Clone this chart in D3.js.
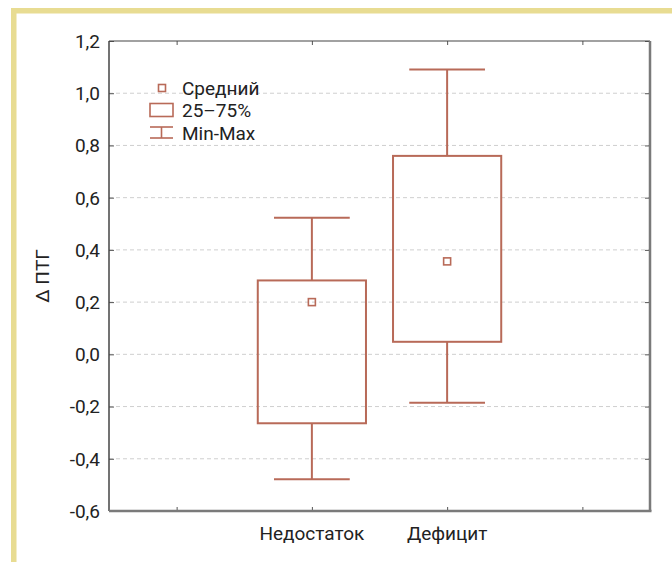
<!DOCTYPE html>
<html><head><meta charset="utf-8">
<script src="https://cdn.jsdelivr.net/npm/d3@7"></script>
<style>body{margin:0;background:#fff}svg{display:block}</style>
</head><body><svg id="c" width="672" height="562"></svg>
<script>
const categories = ["Недостаток", "Дефицит"];
const catPos = [2, 3];
const means = [0.20, 0.356];
const q1 = [-0.264, 0.048];
const q3 = [0.283, 0.76];
const mins = [-0.478, -0.185];
const maxs = [0.523, 1.091];
const yTicks = [-0.6, -0.4, -0.2, 0.0, 0.2, 0.4, 0.6, 0.8, 1.0, 1.2];
const xTicks = [1, 2, 3, 4];
const legendLabels = ["Средний", "25–75%", "Min-Max"];
const yLabel = "Δ ПТГ";

const svg = d3.select("#c");
const W = 672, H = 562;
const m = {l: 109, t: 41, r: 650, b: 511};
const col = "#b86a58";
const font = "Roboto, 'Liberation Sans', sans-serif";

const x = d3.scaleLinear().domain([0.5, 4.5]).range([m.l, m.r]);
const y = d3.scaleLinear().domain([-0.6, 1.2]).range([m.b, m.t]);
const loc = d3.formatLocale({decimal: ",", thousands: " ", grouping: [3], currency: ["", ""], minus: "-"});
const fmt = loc.format(".1f");

// yellow frame
svg.append("rect").attr("x", 11).attr("y", 8).attr("width", W - 11).attr("height", 5.5).attr("fill", "#e8dc92");
svg.append("rect").attr("x", 11).attr("y", 8).attr("width", 5.5).attr("height", H - 8).attr("fill", "#e8dc92");

// grid
svg.append("g").selectAll("line").data(yTicks.filter(d => d > -0.6 && d < 1.2)).join("line")
  .attr("x1", m.l).attr("x2", m.r).attr("y1", d => y(d)).attr("y2", d => y(d))
  .attr("stroke", "#cfcfcf").attr("stroke-dasharray", "4,3").attr("stroke-width", 1);

// axes (inward ticks)
const gl = svg.append("g").attr("transform", `translate(${m.l},0)`)
  .call(d3.axisRight(y).tickValues(yTicks).tickSize(5).tickFormat(""));
gl.select(".domain").remove();
gl.selectAll("line").attr("stroke", "#555");
const gr = svg.append("g").attr("transform", `translate(${m.r},0)`)
  .call(d3.axisLeft(y).tickValues(yTicks).tickSize(5).tickFormat(""));
gr.select(".domain").remove();
gr.selectAll("line").attr("stroke", "#555");
const gt = svg.append("g").attr("transform", `translate(0,${m.t})`)
  .call(d3.axisBottom(x).tickValues(xTicks).tickSize(4).tickFormat(""));
gt.select(".domain").remove();
gt.selectAll("line").attr("stroke", "#555");
const gb = svg.append("g").attr("transform", `translate(0,${m.b})`)
  .call(d3.axisTop(x).tickValues(xTicks).tickSize(4).tickFormat(""));
gb.select(".domain").remove();
gb.selectAll("line").attr("stroke", "#555");

// frame
svg.append("line").attr("x1", m.l).attr("x2", m.r).attr("y1", m.t).attr("y2", m.t).attr("stroke", "#444").attr("stroke-width", 1.2);
svg.append("line").attr("x1", m.l).attr("x2", m.l).attr("y1", m.t).attr("y2", m.b).attr("stroke", "#444").attr("stroke-width", 1.5);
svg.append("line").attr("x1", m.l).attr("x2", m.r + 1.5).attr("y1", m.b).attr("y2", m.b).attr("stroke", "#7a7a7a").attr("stroke-width", 2.5);
svg.append("line").attr("x1", m.r).attr("x2", m.r).attr("y1", m.t).attr("y2", m.b).attr("stroke", "#7a7a7a").attr("stroke-width", 2.5);

// y tick labels
svg.append("g").selectAll("text").data(yTicks).join("text")
  .attr("x", 100).attr("y", d => y(d)).attr("dy", "0.36em").attr("text-anchor", "end")
  .attr("font-family", font).attr("font-size", 19).attr("fill", "#222").text(d => fmt(d));

// x labels
svg.append("g").selectAll("text").data(categories).join("text")
  .attr("x", (d, i) => x(catPos[i])).attr("y", 540).attr("text-anchor", "middle")
  .attr("font-family", font).attr("font-size", 19).attr("fill", "#222").text(d => d);

// y label
svg.append("text").attr("transform", `translate(49,${(m.t + m.b) / 2}) rotate(-90)`)
  .attr("text-anchor", "middle").attr("font-family", font).attr("font-size", 19).attr("fill", "#222").text(yLabel);

// boxes
const bw = 0.4, cw = 0.28;
const g = svg.append("g").attr("fill", "none").attr("stroke", col).attr("stroke-width", 2);
categories.forEach((c, i) => {
  const cx = x(catPos[i]);
  g.append("line").attr("x1", cx).attr("x2", cx).attr("y1", y(maxs[i])).attr("y2", y(q3[i]));
  g.append("line").attr("x1", cx).attr("x2", cx).attr("y1", y(q1[i])).attr("y2", y(mins[i]));
  g.append("line").attr("x1", x(catPos[i] - cw)).attr("x2", x(catPos[i] + cw)).attr("y1", y(maxs[i])).attr("y2", y(maxs[i]));
  g.append("line").attr("x1", x(catPos[i] - cw)).attr("x2", x(catPos[i] + cw)).attr("y1", y(mins[i])).attr("y2", y(mins[i]));
  g.append("rect").attr("x", x(catPos[i] - bw)).attr("y", y(q3[i]))
    .attr("width", x(catPos[i] + bw) - x(catPos[i] - bw)).attr("height", y(q1[i]) - y(q3[i]));
  g.append("rect").attr("x", cx - 3.5).attr("y", y(means[i]) - 3.5).attr("width", 7).attr("height", 7).attr("stroke-width", 1.6);
});

// legend
const lg = svg.append("g");
const ly = [88, 110, 133];
lg.append("rect").attr("x", 158.5).attr("y", ly[0] - 3.5).attr("width", 7).attr("height", 7).attr("fill", "none").attr("stroke", col).attr("stroke-width", 1.6);
lg.append("rect").attr("x", 150).attr("y", ly[1] - 6.5).attr("width", 23).attr("height", 13).attr("fill", "none").attr("stroke", col).attr("stroke-width", 1.6);
lg.append("line").attr("x1", 150).attr("x2", 173).attr("y1", ly[2] - 6).attr("y2", ly[2] - 6).attr("stroke", col).attr("stroke-width", 1.6);
lg.append("line").attr("x1", 150).attr("x2", 173).attr("y1", ly[2] + 5).attr("y2", ly[2] + 5).attr("stroke", col).attr("stroke-width", 1.6);
lg.append("line").attr("x1", 161.5).attr("x2", 161.5).attr("y1", ly[2] - 6).attr("y2", ly[2] + 5).attr("stroke", col).attr("stroke-width", 1.6);
lg.selectAll("text").data(legendLabels).join("text")
  .attr("x", 182).attr("y", (d, i) => ly[i]).attr("dy", "0.36em")
  .attr("font-family", font).attr("font-size", 19).attr("fill", "#222").text(d => d);
</script></body></html>
